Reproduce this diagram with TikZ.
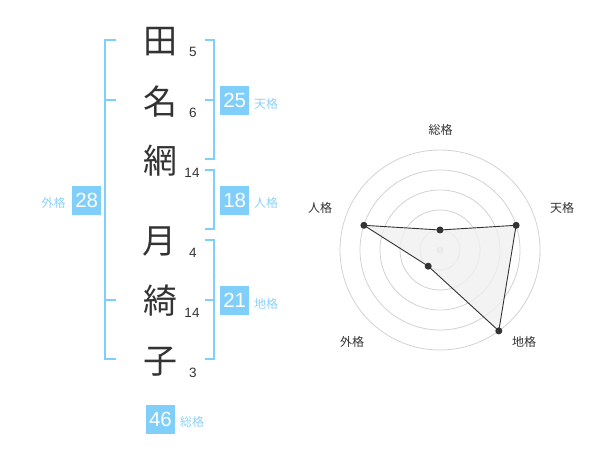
\documentclass[tikz,border=0pt]{standalone}
\usepackage{fontspec}
\setmainfont{Liberation Sans}
\newfontfamily\jp{Noto Sans CJK JP}
\definecolor{boxblue}{RGB}{128,206,250}
\definecolor{lblblue}{RGB}{140,210,248}
\definecolor{ink}{RGB}{51,51,51}
\definecolor{ringgray}{RGB}{210,210,210}
\definecolor{polyfill}{RGB}{240,240,240}
\begin{document}
\begin{tikzpicture}[x=1bp,y=-1bp,
  kanji/.style={text=ink,font=\jp\fontsize{34bp}{36bp}\selectfont,inner sep=0pt},
  stroke/.style={text=ink,font=\fontsize{13.5bp}{15bp}\selectfont,inner sep=0pt},
  numbox/.style={fill=boxblue,text=white,minimum width=29bp,minimum height=29bp,inner sep=0pt,font=\fontsize{20.5bp}{21bp}\selectfont},
  kakulbl/.style={text=lblblue,font=\jp\fontsize{12bp}{14bp}\selectfont,inner sep=0pt},
  bracket/.style={draw=boxblue,line width=2bp},
  ring/.style={draw=ringgray,line width=0.8bp},
  radarlbl/.style={text=ink,font=\jp\fontsize{12bp}{14bp}\selectfont,inner sep=0pt},
  dot/.style={circle,fill=ink,inner sep=0pt,minimum size=7bp}
]
\useasboundingbox (0,0) rectangle (600,470);
% kanji
\node[kanji] (k1) at (160,42) {田};
\node[kanji] (k2) at (160,102) {名};
\node[kanji] (k3) at (160,161) {網};
\node[kanji] (k4) at (159,241) {月};
\node[kanji] (k5) at (160,301) {綺};
\node[kanji] (k6) at (160,362) {子};
% strokes
\node[stroke] (s1) at (193,52) {5};
\node[stroke] (s2) at (193,113) {6};
\node[stroke] (s3) at (192,173) {14};
\node[stroke] (s4) at (193,253) {4};
\node[stroke] (s5) at (192,313) {14};
\node[stroke] (s6) at (193,373) {3};
% brackets
\draw[bracket] (116,40) -- (105,40) -- (105,359) -- (116,359);
\draw[bracket] (105,100) -- (116,100);
\draw[bracket] (105,300) -- (116,300);
\draw[bracket] (205,40) -- (214,40) -- (214,159) -- (205,159);
\draw[bracket] (205,100) -- (214,100);
\draw[bracket] (205,170) -- (214,170) -- (214,229) -- (205,229);
\draw[bracket] (205,240) -- (214,240) -- (214,359) -- (205,359);
\draw[bracket] (205,300) -- (214,300);
% boxes
\node[numbox] (ten) at (234.7,100.3) {25};
\node[kakulbl] (tenl) at (266,104) {天格};
\node[numbox] (jin) at (234.7,200.3) {18};
\node[kakulbl] (jinl) at (266,203) {人格};
\node[numbox] (chi) at (234.7,300.5) {21};
\node[kakulbl] (chil) at (266,304) {地格};
\node[numbox] (gai) at (86.7,200.3) {28};
\node[kakulbl] (gail) at (53.5,203) {外格};
\node[numbox] (sou) at (160.5,419.5) {46};
\node[kakulbl] (soul) at (192,422) {総格};
% radar
\coordinate (c) at (440,250);
\foreach \r in {20,40,60,80,100} \draw[ring] (c) circle[radius=\r];
\fill[ringgray] (c) circle[radius=3.5];
\coordinate (pS) at (440,230);
\coordinate (pT) at (516.1,225.3);
\coordinate (pC) at (498.8,330.9);
\coordinate (pG) at (428.2,266.2);
\coordinate (pJ) at (363.9,225.3);
\draw[fill=polyfill,fill opacity=0.8,draw=ink,line width=0.9bp] (pS) -- (pT) -- (pC) -- (pG) -- (pJ) -- cycle;
\foreach \p in {pS,pT,pC,pG,pJ} \node[dot] at (\p) {};
\node[radarlbl] (rS) at (440.7,130) {総格};
\node[radarlbl] (rT) at (562,208) {天格};
\node[radarlbl] (rC) at (524,342) {地格};
\node[radarlbl] (rG) at (352,342) {外格};
\node[radarlbl] (rJ) at (320,208) {人格};
\end{tikzpicture}
\end{document}
